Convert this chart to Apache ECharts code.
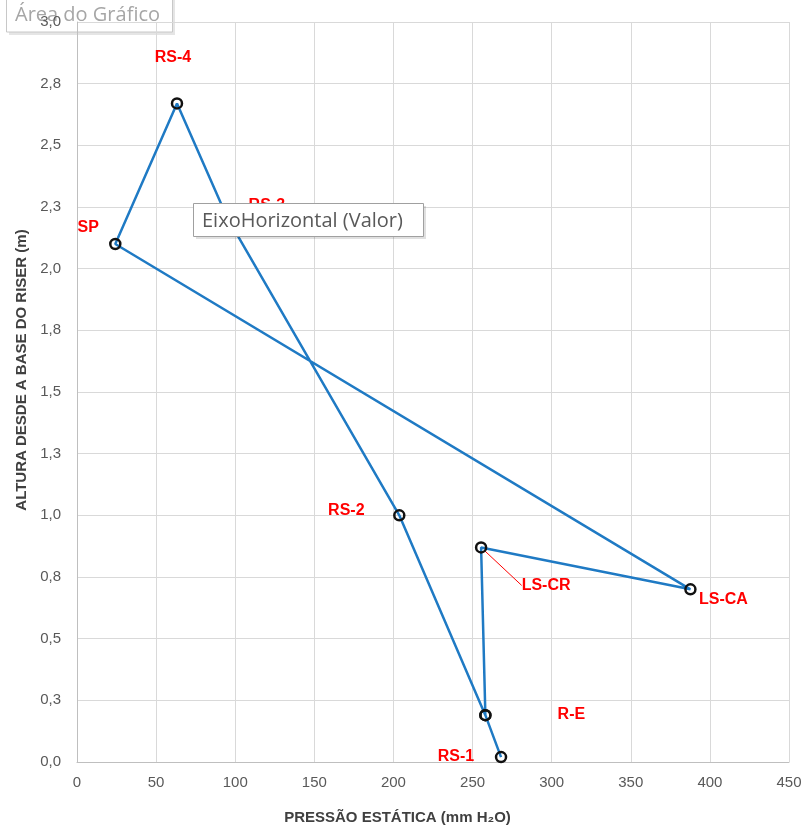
<!DOCTYPE html>
<html><head><meta charset="utf-8">
<script src="https://cdn.jsdelivr.net/npm/echarts@6/dist/echarts.min.js"></script>
<style>html,body{margin:0;padding:0;background:#fff}#c{width:803px;height:834px}</style>
</head><body><div id="c"></div>
<script>
// ---- data ----
const pointNames     = ['RS-1', 'R-E', 'RS-2', 'RS-3', 'RS-4', 'SP', 'LS-CA', 'LS-CR', 'R-E'];
const staticPressure = [268.0, 258.1, 203.7, 94.7, 63.2, 24.2, 387.7, 255.4, 258.1];
const riserHeight    = [0.02, 0.19, 1.00, 2.21, 2.67, 2.10, 0.70, 0.87, 0.19];
const xTickLabels = ['0', '50', '100', '150', '200', '250', '300', '350', '400', '450'];
const yTickLabels = ['0,0', '0,3', '0,5', '0,8', '1,0', '1,3', '1,5', '1,8', '2,0', '2,3', '2,5', '2,8', '3,0'];

// ---- label placement (styling) ----
const labelShift = {
  'RS-1': [-45, 0], 'R-E': [86, -1], 'RS-2': [-53, -5], 'RS-3': [40, -11],
  'RS-4': [-4, -46], 'SP': [-27, -16], 'LS-CA': [33, 10], 'LS-CR': [65, 38]
};

const seriesData = staticPressure.map((p, i) => {
  const item = { name: pointNames[i], value: [p, riserHeight[i]] };
  if (i === pointNames.length - 1) item.label = { show: false };
  if (pointNames[i] === 'LS-CR') item.labelLine = { show: true, lineStyle: { color: '#ff0000', width: 1 } };
  return item;
});

const chart = echarts.init(document.getElementById('c'), null, { renderer: 'canvas' });
const FONT = '"Liberation Sans", Arial, sans-serif';

chart.setOption({
  animation: false,
  backgroundColor: '#ffffff',
  grid: { left: 77, right: 14, top: 22, bottom: 72, containLabel: false, outerBoundsMode: 'none' },
  xAxis: {
    type: 'value', min: 0, max: 450, interval: 50,
    axisLine: { show: true, lineStyle: { color: '#bfbfbf', width: 1 } },
    axisTick: { show: false },
    splitLine: { show: true, lineStyle: { color: '#d9d9d9', width: 1 } },
    axisLabel: { color: '#595959', fontSize: 15, fontFamily: FONT, margin: 13,
      formatter: v => xTickLabels[Math.round(v / 50)] },
    name: 'PRESSÃO ESTÁTICA (mm H₂O)', nameLocation: 'middle', nameGap: 48,
    nameTextStyle: { color: '#404040', fontSize: 15, fontWeight: 'bold', fontFamily: FONT, padding: [0, 71, 0, 0] }
  },
  yAxis: {
    type: 'value', min: 0, max: 3, interval: 0.25,
    axisLine: { show: true, lineStyle: { color: '#bfbfbf', width: 1 } },
    axisTick: { show: false },
    splitLine: { show: true, lineStyle: { color: '#d9d9d9', width: 1 } },
    axisLabel: { color: '#595959', fontSize: 15, fontFamily: FONT, margin: 16,
      formatter: v => yTickLabels[Math.round(v / 0.25)] },
    name: 'ALTURA DESDE A BASE DO RISER (m)', nameLocation: 'middle', nameGap: 47,
    nameTextStyle: { color: '#404040', fontSize: 15, fontWeight: 'bold', fontFamily: FONT, padding: [0, 0, 0, 44] }
  },
  series: [{
    type: 'line',
    data: seriesData,
    smooth: false,
    symbol: 'circle',
    symbolSize: 10,
    lineStyle: { color: '#1f7ac4', width: 2.5 },
    itemStyle: { color: 'rgba(255,255,255,0)', borderColor: '#111111', borderWidth: 2.5 },
    label: {
      show: true, position: 'inside', formatter: '{b}',
      color: '#ff0000', fontSize: 16, fontWeight: 'bold', fontFamily: FONT
    },
    labelLine: { show: false },
    labelLayout: function (params) {
      const n = pointNames[params.dataIndex];
      const s = labelShift[n];
      return s ? { dx: s[0], dy: s[1] } : {};
    },
    z: 3
  }],
  graphic: [
    { type: 'rect', z: -1, silent: true, shape: { x: 9, y: 0, width: 166, height: 35 }, style: { fill: 'rgba(0,0,0,0.10)' } },
    { type: 'rect', z: -1, silent: true, shape: { x: 6.5, y: -3, width: 166, height: 35 }, style: { fill: '#ffffff', stroke: '#c8c8c8', lineWidth: 1 } },
    { type: 'text', z: -1, silent: true, x: 15, y: 15, style: { text: 'Área do Gráfico', fill: '#a6a6a6', font: '20px "Open Sans", sans-serif', verticalAlign: 'middle' } },
    { type: 'rect', z: 10, silent: true, shape: { x: 196, y: 206, width: 230, height: 33 }, style: { fill: 'rgba(0,0,0,0.12)' } },
    { type: 'rect', z: 10, silent: true, shape: { x: 193.5, y: 203.5, width: 230, height: 33 }, style: { fill: '#ffffff', stroke: '#a0a0a0', lineWidth: 1 } },
    { type: 'text', z: 10, silent: true, x: 202, y: 221, style: { text: 'EixoHorizontal (Valor)', fill: '#595959', font: '20px "Open Sans", sans-serif', verticalAlign: 'middle' } }
  ]
});
</script>
</body></html>
